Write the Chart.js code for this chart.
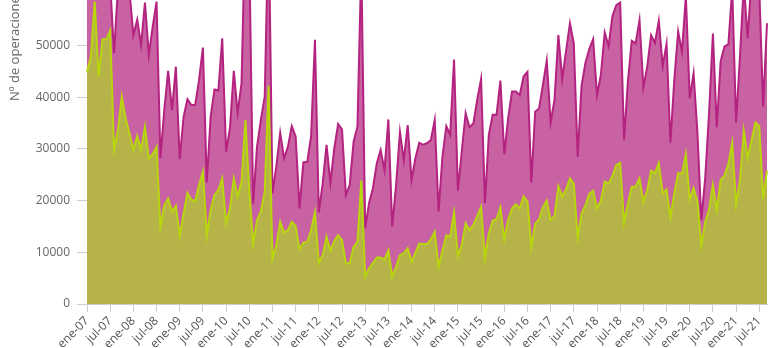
<!DOCTYPE html>
<html>
<head>
<meta charset="utf-8">
<script src="https://cdn.jsdelivr.net/npm/chart.js@4"></script>
<style>
  html, body { margin: 0; padding: 0; background: #fff; }
  #frame { position: relative; width: 780px; height: 348px; overflow: hidden; }
  #holder { position: absolute; left: 0; top: -233px; width: 780px; height: 581px; }
</style>
</head>
<body>
<div id="frame"><div id="holder"><canvas id="opsChart"></canvas></div></div>
<script>
// months / years shown on the x axis (ene-07 .. sep-21)
const meses = ['ene', 'feb', 'mar', 'abr', 'may', 'jun', 'jul', 'ago', 'sep', 'oct', 'nov', 'dic'];
const anios = ['07', '08', '09', '10', '11', '12', '13', '14', '15', '16', '17', '18', '19', '20', '21'];
const mesesUltimoAnio = 9;

// total operations (magenta), one row per year
const totalOps = [
    62000, 64000, 66000, 63000, 65000, 66000, 62000, 48500, 61000, 64000, 63000, 60500,
    52000, 55000, 50100, 58300, 48200, 53600, 58500, 28200, 37500, 45100, 37500, 45900,
    28000, 36200, 39600, 38500, 38500, 43300, 49600, 23500, 36200, 41500, 41300, 51400,
    29500, 34000, 45100, 36900, 42700, 75000, 68000, 19400, 30400, 35600, 40100, 75000,
    21400, 26600, 33100, 28200, 30400, 34400, 32400, 18500, 27400, 27500, 32400, 51100,
    17700, 23300, 30800, 23400, 30100, 34800, 33800, 21100, 23000, 31400, 34300, 66000,
    14600, 19500, 22400, 27200, 29800, 25900, 35700, 15000, 23000, 33300, 27800, 34600,
    24000, 28200, 31200, 30800, 31100, 31700, 35600, 17900, 28500, 34400, 32700, 47300,
    21900, 29500, 36900, 34200, 34900, 39500, 43500, 19500, 32700, 36600, 36600, 43200,
    29000, 35900, 41100, 41100, 40400, 44000, 44900, 23500, 37200, 37800, 42400, 47100,
    35100, 39500, 52000, 43500, 49000, 54300, 50400, 28500, 42200, 46600, 49300, 51200,
    40400, 44300, 52500, 49900, 55700, 57800, 58300, 31800, 43000, 50900, 50400, 54900,
    41900, 45900, 52000, 50500, 54800, 46000, 50300, 31200, 43300, 52700, 48800, 59500,
    39800, 44600, 33000, 16200, 24300, 36900, 52300, 34200, 46900, 49800, 50200, 61000,
    35100, 47800, 62000, 51400, 63000, 64000, 61000, 38200, 54300
];

// second series (olive / lime line)
const parteOps = [
    44900, 47800, 58500, 44000, 51200, 51200, 52900, 29900, 33600, 40100, 35900, 33000,
    29800, 32500, 29800, 34300, 28200, 29000, 30400, 14900, 19100, 20400, 17900, 19000,
    13200, 17500, 21500, 20200, 19900, 23000, 25600, 13200, 18200, 21100, 22000, 24300,
    15600, 18500, 24300, 20800, 23700, 35600, 22000, 11700, 16200, 17900, 21700, 42200,
    8800, 11400, 15900, 13800, 14300, 15900, 15100, 10600, 11900, 12000, 14300, 17700,
    8000, 9500, 13000, 10300, 12200, 13300, 12400, 7900, 7900, 11100, 12000, 23900,
    5300, 6900, 7900, 9000, 9000, 8600, 10400, 5300, 7200, 9500, 9800, 10800,
    8200, 9900, 11700, 11600, 11600, 12500, 14000, 7200, 10300, 13300, 13000, 17700,
    9300, 11400, 15600, 14300, 15300, 17000, 18800, 8800, 13700, 16100, 16400, 18700,
    12500, 16300, 18500, 19300, 18500, 20800, 19800, 11100, 15500, 16400, 18800, 20000,
    16300, 17000, 22800, 20800, 22200, 24300, 23300, 12900, 17500, 19100, 21300, 21900,
    18500, 20000, 23700, 23300, 24800, 26900, 27300, 15700, 19500, 22700, 22700, 24300,
    19800, 22000, 25800, 25300, 27300, 21400, 22200, 16800, 21400, 25300, 25200, 29000,
    20200, 22400, 19800, 11400, 15900, 18200, 23000, 18200, 24000, 24900, 27100, 31200,
    19300, 24000, 33500, 28200, 31700, 35100, 34400, 20400, 25800
];

const labels = [];
anios.forEach((a, i) => {
    const n = i === anios.length - 1 ? mesesUltimoAnio : 12;
    for (let k = 0; k < n; k++) labels.push(meses[k] + '-' + a);
});

Chart.defaults.font.family = "'Open Sans', sans-serif";

new Chart(document.getElementById('opsChart'), {
    type: 'line',
    data: {
        labels: labels,
        datasets: [
            {
                label: 'Parte',
                data: parteOps,
                order: 1,
                fill: 'origin',
                backgroundColor: '#b6b449',
                borderColor: '#b8d60c',
                borderWidth: 2,
                pointRadius: 0,
                tension: 0
            },
            {
                label: 'Total',
                data: totalOps,
                order: 2,
                fill: 'origin',
                backgroundColor: '#c862a2',
                borderColor: '#b3237f',
                borderWidth: 2,
                pointRadius: 0,
                tension: 0
            }
        ]
    },
    options: {
        responsive: true,
        maintainAspectRatio: false,
        animation: false,
        layout: { padding: { top: 20, right: 13, left: 0, bottom: 0 } },
        plugins: {
            legend: { display: false },
            tooltip: { enabled: false }
        },
        scales: {
            x: {
                offset: false,
                grid: { drawOnChartArea: false, drawTicks: true, tickLength: 8, color: '#cccccc' },
                border: { color: '#cccccc' },
                ticks: {
                    autoSkip: false,
                    minRotation: 45,
                    maxRotation: 45,
                    padding: 2,
                    color: '#555',
                    font: { size: 12 },
                    callback: function (val, i) {
                        return i % 6 === 0 ? this.getLabelForValue(val) : null;
                    }
                },
                afterFit: s => { s.height = 44; }
            },
            y: {
                min: 0,
                max: 100000,
                grid: { drawOnChartArea: false, drawTicks: true, tickLength: 10, color: '#cccccc' },
                border: { color: '#cccccc' },
                ticks: {
                    stepSize: 10000,
                    padding: 7,
                    color: '#666',
                    font: { size: 12 },
                    callback: v => String(v)
                },
                title: {
                    display: true,
                    text: 'Nº de operaciones',
                    color: '#666',
                    font: { size: 13 },
                    padding: { top: 7, bottom: 4 }
                },
                afterFit: s => { s.width = 87; }
            }
        }
    }
});
</script>
</body>
</html>
